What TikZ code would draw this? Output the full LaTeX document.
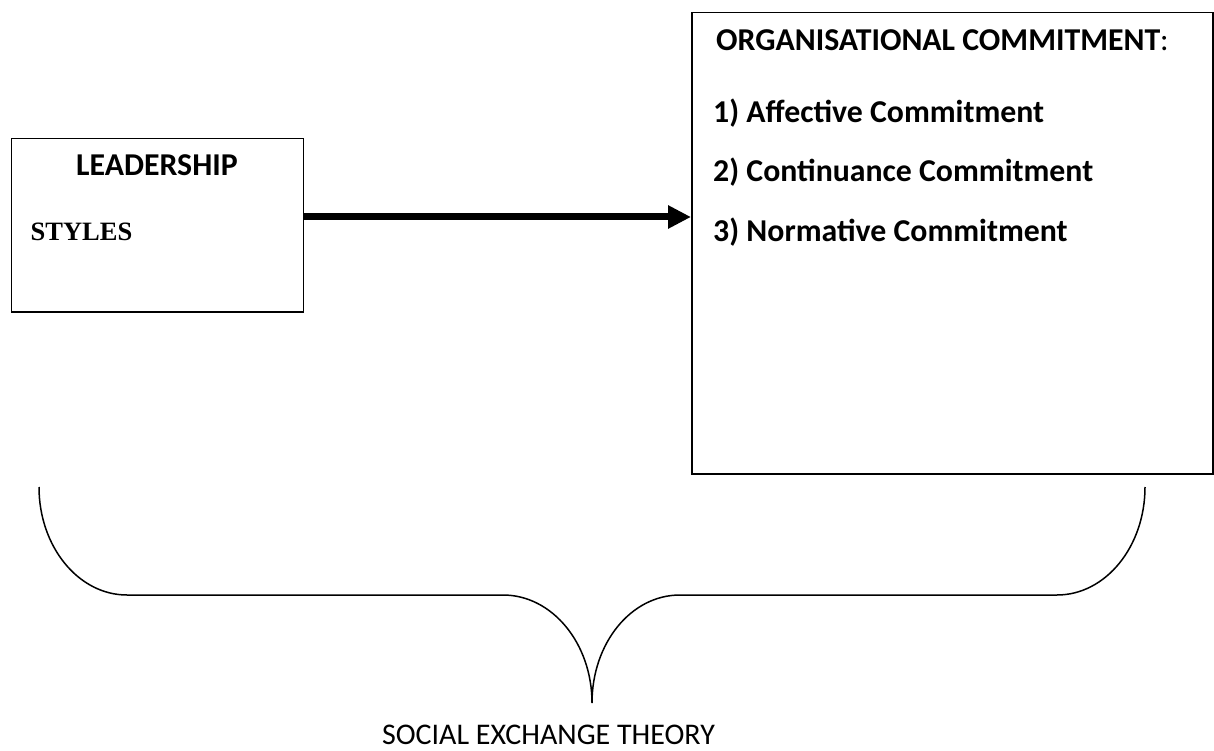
\documentclass[tikz,border=0pt]{standalone}
\usepackage{fontspec}
\setmainfont{Carlito}
\newfontfamily\timesfont{Liberation Serif}
\usetikzlibrary{arrows.meta}
\begin{document}
\begin{tikzpicture}[x=1pt,y=-1pt,
  boxstyle/.style={draw=black,line width=1.5pt,fill=none},
  boldlbl/.style={anchor=base west,inner sep=0pt,font=\fontsize{31.8}{38}\selectfont\bfseries},
  bracestyle/.style={draw=black,line width=1.5pt},
  bigarrow/.style={line width=7pt,-{Triangle[length=23pt,width=22pt]}}]
\useasboundingbox (0,0) rectangle (1214,751);
% boxes
\node[boxstyle,minimum width=292pt,minimum height=173pt,inner sep=0pt,anchor=north west] (lead) at (10.7,138) {};
\node[boxstyle,minimum width=521pt,minimum height=461pt,inner sep=0pt,anchor=north west] (org) at (691,12) {};
% texts
\node[boldlbl] (leadt) at (76,176) {LEADERSHIP};
\node[anchor=base west,inner sep=0pt,font=\timesfont\fontsize{26.5}{32}\selectfont\bfseries] (styles) at (30.5,240.5) {STYLES};
\node[boldlbl] (orgt) at (716,50.5) {ORGANISATIONAL COMMITMENT\textmd{:}};
\node[boldlbl] (c1) at (713,123) {1) Affective Commitment};
\node[boldlbl] (c2) at (713,181.5) {2) Continuance Commitment};
\node[boldlbl] (c3) at (713,241.5) {3) Normative Commitment};
% arrow
\coordinate (arrs) at (lead.east |- 0,217);
\coordinate (arre) at (org.west |- 0,217);
\draw[bigarrow] (arrs) -- (arre);
% brace
\coordinate (bl) at (39,487);
\coordinate (br) at (1145,487);
\coordinate (bm) at (592,703);
\draw[bracestyle] (bl) .. controls (39,546.6) and (78.4,595) .. (127,595)
  -- (503,595) .. controls (552.2,595) and (592,643.4) .. (bm)
  .. controls (592,643.4) and (630.8,595) .. (680,595)
  -- (1057,595) .. controls (1105.6,595) and (1145,546.6) .. (br);
\node[anchor=base,inner sep=0pt,font=\fontsize{30}{36}\selectfont] (set) at (548.5,744) {SOCIAL EXCHANGE THEORY};
\end{tikzpicture}
\end{document}
